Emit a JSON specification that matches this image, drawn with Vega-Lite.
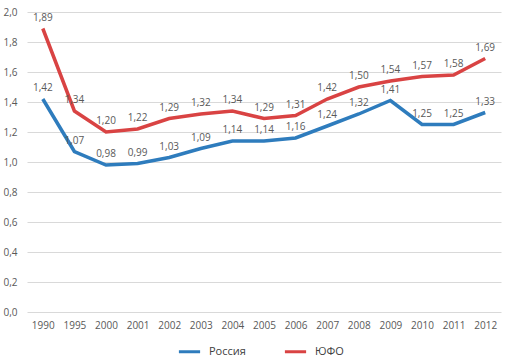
{
  "$schema": "https://vega.github.io/schema/vega-lite/v6.json",
  "autosize": {"type": "fit", "contains": "padding"},
  "width": 513,
  "height": 362,
  "padding": {"left": 2, "right": 12, "top": 7, "bottom": 32},
  "config": {
    "locale": {"number": {"decimal": ",", "thousands": " ", "grouping": [3], "currency": ["", ""]}},
    "view": {"stroke": null},
    "font": "Open Sans",
    "axis": {"labelFont": "Open Sans", "labelFontSize": 10, "labelColor": "#595959", "domain": false, "ticks": false, "title": null},
    "legend": {"labelFont": "Open Sans", "labelFontSize": 11, "labelColor": "#404040"}
  },
  "data": {
    "values": [
      {"year": "1990", "series": "Россия", "value": 1.42},
      {"year": "1995", "series": "Россия", "value": 1.07},
      {"year": "2000", "series": "Россия", "value": 0.98},
      {"year": "2001", "series": "Россия", "value": 0.99},
      {"year": "2002", "series": "Россия", "value": 1.03},
      {"year": "2003", "series": "Россия", "value": 1.09},
      {"year": "2004", "series": "Россия", "value": 1.14},
      {"year": "2005", "series": "Россия", "value": 1.14},
      {"year": "2006", "series": "Россия", "value": 1.16},
      {"year": "2007", "series": "Россия", "value": 1.24},
      {"year": "2008", "series": "Россия", "value": 1.32},
      {"year": "2009", "series": "Россия", "value": 1.41},
      {"year": "2010", "series": "Россия", "value": 1.25},
      {"year": "2011", "series": "Россия", "value": 1.25},
      {"year": "2012", "series": "Россия", "value": 1.33},
      {"year": "1990", "series": "ЮФО", "value": 1.89},
      {"year": "1995", "series": "ЮФО", "value": 1.34},
      {"year": "2000", "series": "ЮФО", "value": 1.20},
      {"year": "2001", "series": "ЮФО", "value": 1.22},
      {"year": "2002", "series": "ЮФО", "value": 1.29},
      {"year": "2003", "series": "ЮФО", "value": 1.32},
      {"year": "2004", "series": "ЮФО", "value": 1.34},
      {"year": "2005", "series": "ЮФО", "value": 1.29},
      {"year": "2006", "series": "ЮФО", "value": 1.31},
      {"year": "2007", "series": "ЮФО", "value": 1.42},
      {"year": "2008", "series": "ЮФО", "value": 1.50},
      {"year": "2009", "series": "ЮФО", "value": 1.54},
      {"year": "2010", "series": "ЮФО", "value": 1.57},
      {"year": "2011", "series": "ЮФО", "value": 1.58},
      {"year": "2012", "series": "ЮФО", "value": 1.69}
    ]
  },
  "encoding": {
    "x": {"field": "year", "type": "ordinal", "scale": {"type": "point", "padding": 0.5}, "axis": {"labelAngle": 0, "labelPadding": 8, "grid": false}},
    "y": {"field": "value", "type": "quantitative", "scale": {"domain": [0, 2]}, "axis": {"values": [0, 0.2, 0.4, 0.6, 0.8, 1.0, 1.2, 1.4, 1.6, 1.8, 2.0], "format": ".1f", "labelPadding": 10, "gridColor": "#d9d9d9"}},
    "color": {"field": "series", "type": "nominal", "scale": {"domain": ["Россия", "ЮФО"], "range": ["#2e7cbd", "#d94343"]}, "legend": {"orient": "none", "legendX": 150, "legendY": 327, "direction": "horizontal", "title": null, "symbolType": "stroke", "symbolStrokeWidth": 3, "symbolSize": 450, "columnPadding": 32, "labelOffset": 7}}
  },
  "layer": [
    {"mark": {"type": "line", "strokeWidth": 3.5}},
    {"mark": {"type": "text", "dy": -11, "fontSize": 10, "color": "#595959"}, "encoding": {"text": {"field": "value", "type": "quantitative", "format": ".2f"}, "color": {"value": "#595959"}}}
  ]
}
